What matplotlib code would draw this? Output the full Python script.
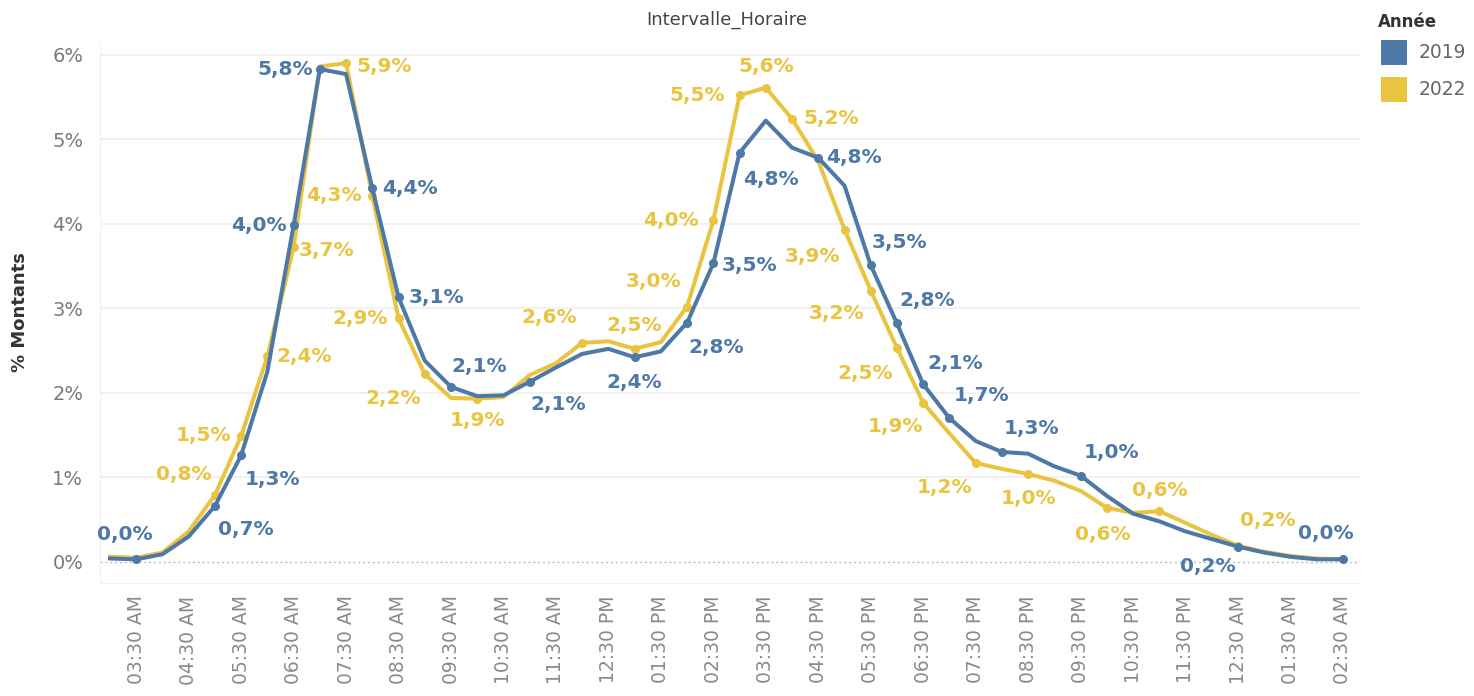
import matplotlib
matplotlib.use("Agg")
import matplotlib.pyplot as plt
from matplotlib.patches import Rectangle

# ── data ─────────────────────────────────────────────────────────────────────
slots = [
    "03:00 AM", "03:30 AM", "04:00 AM", "04:30 AM", "05:00 AM", "05:30 AM",
    "06:00 AM", "06:30 AM", "07:00 AM", "07:30 AM", "08:00 AM", "08:30 AM",
    "09:00 AM", "09:30 AM", "10:00 AM", "10:30 AM", "11:00 AM", "11:30 AM",
    "12:00 PM", "12:30 PM", "01:00 PM", "01:30 PM", "02:00 PM", "02:30 PM",
    "03:00 PM", "03:30 PM", "04:00 PM", "04:30 PM", "05:00 PM", "05:30 PM",
    "06:00 PM", "06:30 PM", "07:00 PM", "07:30 PM", "08:00 PM", "08:30 PM",
    "09:00 PM", "09:30 PM", "10:00 PM", "10:30 PM", "11:00 PM", "11:30 PM",
    "12:00 AM", "12:30 AM", "01:00 AM", "01:30 AM", "02:00 AM", "02:30 AM",
]

pct_2019 = [
    0.04, 0.03, 0.09, 0.30, 0.66, 1.26, 2.25, 3.98, 5.83, 5.77, 4.42, 3.13,
    2.38, 2.07, 1.96, 1.97, 2.13, 2.30, 2.46, 2.52, 2.42, 2.49, 2.83, 3.53,
    4.84, 5.22, 4.90, 4.78, 4.45, 3.51, 2.82, 2.10, 1.70, 1.43, 1.30, 1.28,
    1.13, 1.02, 0.78, 0.57, 0.48, 0.36, 0.27, 0.18, 0.11, 0.06, 0.03, 0.03,
]

pct_2022 = [
    0.06, 0.05, 0.11, 0.36, 0.79, 1.49, 2.43, 3.72, 5.86, 5.90, 4.33, 2.88,
    2.22, 1.94, 1.93, 1.95, 2.21, 2.35, 2.59, 2.61, 2.52, 2.60, 3.02, 4.04,
    5.52, 5.61, 5.24, 4.74, 3.93, 3.21, 2.53, 1.88, 1.52, 1.17, 1.10, 1.04,
    0.96, 0.84, 0.64, 0.58, 0.60, 0.46, 0.32, 0.19, 0.12, 0.07, 0.04, 0.03,
]

years = ["2019", "2022"]

# which points carry a value label
labelled_2019 = [1, 4, 5, 7, 8, 10, 11, 13, 16, 20, 22, 23, 24, 27,
                 29, 30, 31, 32, 34, 37, 43, 47]
labelled_2022 = [4, 5, 6, 7, 9, 10, 11, 12, 14, 18, 20, 22, 23, 24, 25,
                 26, 28, 29, 30, 31, 33, 35, 38, 40, 43]

# ── layout / style ───────────────────────────────────────────────────────────
W, H = 1474, 696
BLUE = "#4e79a7"
YELLOW = "#e9c440"
LABEL_FS = 14.5

# label offsets in pixels (dx right, dy down), same order as labelled_*
offs_2019 = [(-11, -25), (31, 23), (31, 24), (-35, 0), (-35, 0), (38, 0),
             (38, 0), (28, -20), (28, 23), (0, 25), (29, 25), (36, 2),
             (31, 27), (36, 0), (29, -23), (30, -23), (32, -21), (32, -23),
             (30, -23), (31, -23), (-30, 20), (-17, -26)]
offs_2022 = [(-31, -21), (-38, 0), (37, 0), (33, 3), (38, 3), (-38, 0),
             (-38, 0), (-32, 24), (0, 22), (-33, -25), (0, -23), (-34, -25),
             (-42, 0), (-42, 0), (0, -21), (39, 0), (-32, 27), (-34, 23),
             (-32, 25), (-28, 24), (-31, 25), (0, 25), (-4, 27), (0, -21),
             (30, -25)]


def fx(px):
    return px / W


def fy(py):
    return 1 - py / H


def fmt(v):
    return f"{v:.1f}%".replace(".", ",")


fig = plt.figure(figsize=(W / 100, H / 100), dpi=100, facecolor="white")
ax = fig.add_axes([fx(100), fy(583), fx(1360) - fx(100), fy(42) - fy(583)])

xs = list(range(len(slots)))
ax.plot(xs, pct_2022, color=YELLOW, lw=2.9, solid_joinstyle="round", zorder=3)
ax.plot(xs, pct_2019, color=BLUE, lw=2.9, solid_joinstyle="round", zorder=4)


def add_labels(vals, idx, offs, color, z):
    ax.plot(idx, [vals[i] for i in idx], "o", color=color, ms=5.5,
            zorder=z, lw=0)
    for i, (dx, dy) in zip(idx, offs):
        ax.annotate(fmt(vals[i]), (i, vals[i]), xytext=(dx, -dy),
                    textcoords="offset pixels", ha="center", va="center",
                    color=color, fontsize=LABEL_FS, fontweight="bold",
                    zorder=6)


add_labels(pct_2022, labelled_2022, offs_2022, YELLOW, 3.5)
add_labels(pct_2019, labelled_2019, offs_2019, BLUE, 4.5)

# axes
ax.set_xlim(-0.38, 47.65)
ax.set_ylim(-0.25, 6.15)
ax.set_xticks(xs[1::2])
ax.set_xticklabels(slots[1::2], rotation=90, color="#8a8a8a", fontsize=13.5)
ax.set_yticks([0, 1, 2, 3, 4, 5, 6])
ax.set_yticklabels([f"{t}%" for t in range(7)], color="#7a7a7a", fontsize=14)
ax.tick_params(axis="both", length=0)
ax.tick_params(axis="x", pad=9)
ax.tick_params(axis="y", pad=12)

for y in range(1, 7):
    ax.axhline(y, color="#efefef", lw=1.2, zorder=0)
ax.axhline(0, color="#bdbdbd", lw=1.0, ls=(0, (1.5, 2)), zorder=1)

for s in ["top", "right"]:
    ax.spines[s].set_visible(False)
ax.spines["left"].set_color("#f0f0f0")
ax.spines["bottom"].set_color("#f0f0f0")

ax.set_ylabel("% Montants", fontsize=13, fontweight="bold", color="#333333")
ax.yaxis.set_label_coords(-0.056, 0.5)

fig.text(fx(727), fy(20), "Intervalle_Horaire", ha="center", va="center",
         fontsize=13, color="#444444")

# legend
fig.text(fx(1378), fy(22), "Année", ha="left", va="center", fontsize=12,
         fontweight="bold", color="#333333")
for k, (yr, col) in enumerate(zip(years, [BLUE, YELLOW])):
    top = 40 + k * 37
    fig.add_artist(Rectangle((fx(1381), fy(top + 25)), fx(26), 25 / H,
                             transform=fig.transFigure, color=col, lw=0))
    fig.text(fx(1419), fy(top + 12.5), yr, ha="left", va="center",
             fontsize=13.5, color="#666666")

fig.savefig("out.png", dpi=100, facecolor="white")
